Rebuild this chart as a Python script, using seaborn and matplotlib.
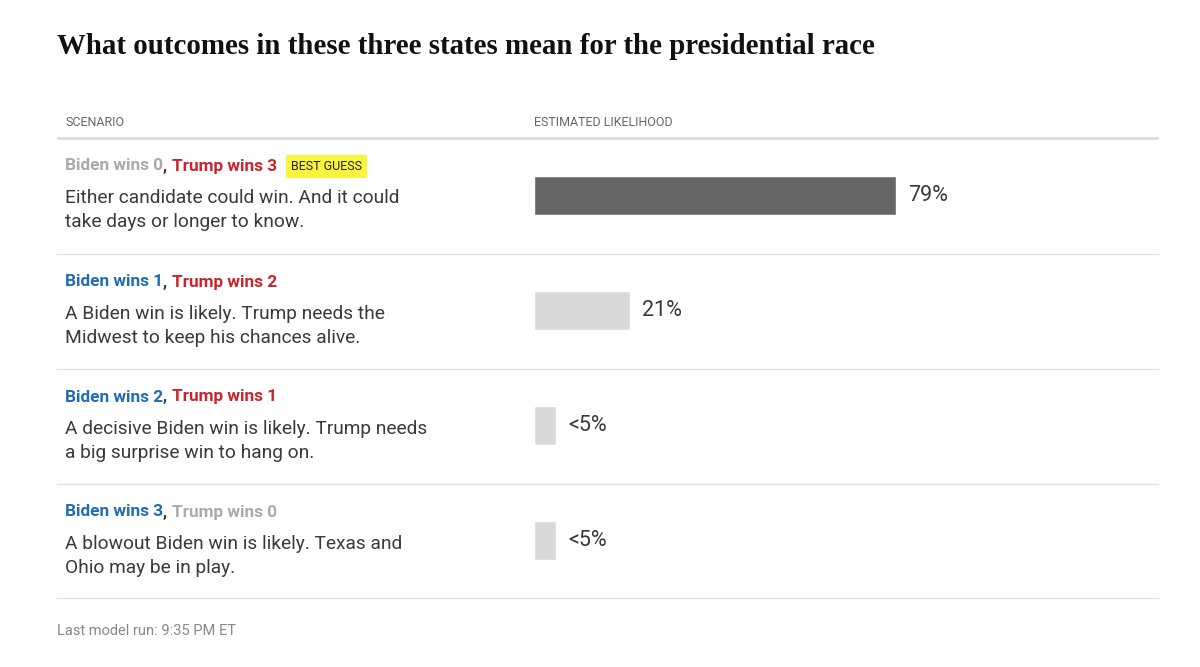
import matplotlib.pyplot as plt
import numpy as np
import pandas as pd
import seaborn as sns

# data
title = "What outcomes in these three states mean for the presidential race"
biden_wins = [0, 1, 2, 3]
trump_wins = [3, 2, 1, 0]
likelihood = [79, 21, 4.8, 4.8]
likelihood_labels = ["79%", "21%", "<5%", "<5%"]
descriptions = [
    ["Either candidate could win. And it could", "take days or longer to know."],
    ["A Biden win is likely. Trump needs the", "Midwest to keep his chances alive."],
    ["A decisive Biden win is likely. Trump needs", "a big surprise win to hang on."],
    ["A blowout Biden win is likely. Texas and", "Ohio may be in play."],
]
best_guess_row = 0
footer = "Last model run: 9:35 PM ET"

BLUE = "#1f6db3"
RED = "#c9252c"
GREY = "#aaaaaa"
DARK = "#333333"
BAR_DARK = "#666666"
BAR_LIGHT = "#d9d9d9"

sns.set_theme(style="white")
plt.rcParams['font.family'] = ['Roboto', 'DejaVu Sans']

W, H = 1200, 667
fig = plt.figure(figsize=(12, 6.67), dpi=100)
fig.patch.set_facecolor("white")

# background axes in pixel coordinates for all the text and rules
bg = fig.add_axes([0, 0, 1, 1])
bg.set_xlim(0, W)
bg.set_ylim(H, 0)
bg.axis("off")

bg.text(57, 46, title, fontsize=20.8, fontweight="bold", family="Liberation Serif",
        color="#111111", va="center", ha="left")

bg.text(65, 123, "SCENARIO", fontsize=9, color="#666666", va="center")
bg.text(534, 123, "ESTIMATED LIKELIHOOD", fontsize=9, color="#666666", va="center")

row_tops = [138, 254, 369, 484]
bottom = 598
bg.plot([57, 1158], [138, 138], color="#dddddd", lw=2, solid_capstyle="butt")
for y in row_tops[1:] + [bottom]:
    bg.plot([57, 1158], [y, y], color="#e2e2e2", lw=1)

fig.canvas.draw()
renderer = fig.canvas.get_renderer()


def put_segments(x, y, segments):
    for txt, col, kw in segments:
        t = bg.text(x, y, txt, color=col, va="center", ha="left", **kw)
        ext = t.get_window_extent(renderer)
        x += ext.width
    return x


lab_kw = dict(fontsize=12.4, fontweight="bold")
for i in range(4):
    top = row_tops[i]
    bcol = GREY if biden_wins[i] == 0 else BLUE
    tcol = GREY if trump_wins[i] == 0 else RED
    end = put_segments(65, top + 28, [
        (f"Biden wins {biden_wins[i]}", bcol, lab_kw),
        (",", DARK, lab_kw),
        (" ", DARK, lab_kw),
        (f"Trump wins {trump_wins[i]}", tcol, lab_kw),
    ])
    if i == best_guess_row:
        bg.text(end + 14, top + 28, "BEST GUESS", fontsize=9, color="#222222",
                va="center", ha="left",
                bbox=dict(boxstyle="square,pad=0.4", fc="#f8f53c", ec="none"))
    for j, line in enumerate(descriptions[i]):
        bg.text(65, top + 60 + 24 * j, line, fontsize=13.8, color="#3a3a3a",
                va="center", ha="left")

bg.text(57, 631, footer, fontsize=10.5, color="#888888", va="center")

# bar axes: x from 534px (0%) to 992px (100%)
ax = fig.add_axes([534 / W, 1 - bottom / H, 458 / W, (bottom - 138) / H])
df = pd.DataFrame({"scenario": [f"s{i}" for i in range(4)], "value": likelihood})
colors = [BAR_DARK] + [BAR_LIGHT] * 3
sns.barplot(data=df, x="value", y="scenario", hue="scenario", palette=colors,
            legend=False, orient="h", width=0.34, ax=ax, saturation=1)
ax.set_xlim(0, 100)
ax.set_ylim(3.5, -0.5)
ax.axis("off")
ax.patch.set_alpha(0)
for cont, lab in zip(ax.containers, likelihood_labels):
    ax.bar_label(cont, labels=[lab], padding=8.5, fontsize=15.5, color="#3a3a3a")

fig.savefig("out.png", dpi=100, facecolor="white")
